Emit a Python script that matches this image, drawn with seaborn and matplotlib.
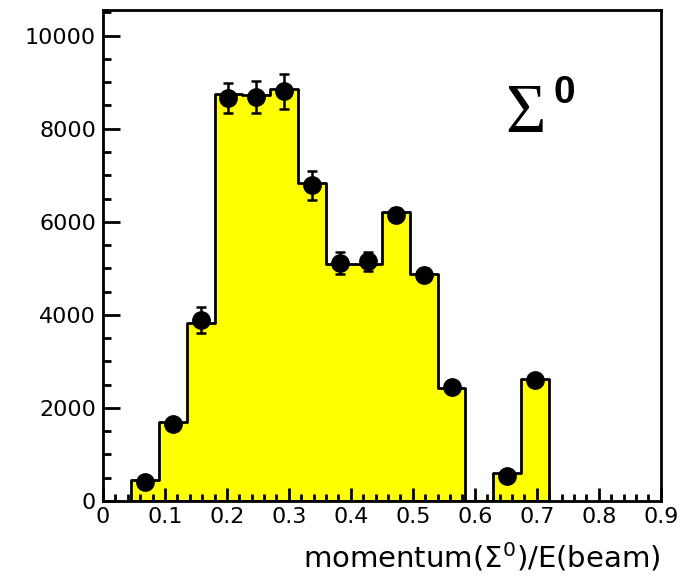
import numpy as np
import matplotlib
matplotlib.use("Agg")
import matplotlib.pyplot as plt
from matplotlib.ticker import MultipleLocator
import seaborn as sns

# Binning: 15 bins of width 0.045 starting at 0.045
bin_edges = [0.045, 0.09, 0.135, 0.18, 0.225, 0.27, 0.315, 0.36, 0.405,
             0.45, 0.495, 0.54, 0.585, 0.63, 0.675, 0.72]
bin_centers = [0.0675, 0.1125, 0.1575, 0.2025, 0.2475, 0.2925, 0.3375, 0.3825,
               0.4275, 0.4725, 0.5175, 0.5625, 0.6075, 0.6525, 0.6975]

# Filled histogram contents
hist_counts = [460, 1700, 3820, 8740, 8720, 8850, 6840, 5090,
               5090, 6210, 4880, 2420, 0, 600, 2630]

# Data points (bin 0.585-0.63 has no entry)
data_x = [0.0675, 0.1125, 0.1575, 0.2025, 0.2475, 0.2925, 0.3375, 0.3825,
          0.4275, 0.4725, 0.5175, 0.5625, 0.6525, 0.6975]
data_y = [400, 1660, 3880, 8660, 8680, 8800, 6780, 5110,
          5150, 6150, 4860, 2440, 540, 2600]
data_err = [100, 120, 280, 330, 340, 380, 320, 230,
            200, 140, 140, 100, 80, 120]

x_ticks = [0, 0.1, 0.2, 0.3, 0.4, 0.5, 0.6, 0.7, 0.8, 0.9]
x_tick_labels = ["0", "0.1", "0.2", "0.3", "0.4", "0.5", "0.6", "0.7", "0.8", "0.9"]

sns.set_style("white")
plt.rcParams["font.family"] = ["DejaVu Sans"]
plt.rcParams.update({"text.color": "black", "axes.labelcolor": "black",
                     "xtick.color": "black", "ytick.color": "black"})

fig = plt.figure(figsize=(6.81, 5.79), dpi=100)
ax = fig.add_axes([0.1512, 0.1347, 0.819, 0.848])
ax.set_axisbelow(False)

sns.histplot(x=bin_centers, weights=hist_counts, bins=bin_edges,
             element="step", fill=True, color="#ffff00", alpha=1.0,
             edgecolor="black", linewidth=2.0, ax=ax, zorder=2)

ax.errorbar(data_x, data_y, yerr=data_err, fmt="o", color="black",
            markersize=12.5, elinewidth=1.8, capsize=3.5, capthick=1.8,
            zorder=4)

ax.set_xlim(0, 0.9)
ax.set_ylim(0, 10550)

ax.set_xticks(x_ticks)
ax.set_xticklabels(x_tick_labels)
ax.xaxis.set_minor_locator(MultipleLocator(0.02))
ax.yaxis.set_major_locator(MultipleLocator(2000))
ax.yaxis.set_minor_locator(MultipleLocator(500))

ax.tick_params(axis="x", which="major", direction="in", length=9.5, width=2,
               labelsize=16, pad=4, bottom=True, top=False)
ax.tick_params(axis="x", which="minor", direction="in", length=5, width=2,
               bottom=True, top=False)
ax.tick_params(axis="y", which="major", direction="in", length=12, width=2,
               labelsize=16, pad=5, left=True, right=False)
ax.tick_params(axis="y", which="minor", direction="in", length=6, width=2,
               left=True, right=False)

for s in ax.spines.values():
    s.set_linewidth(2)
    s.set_color("black")

ax.set_ylabel("")
ax.set_xlabel(r"momentum($\mathregular{\Sigma^0}$)/E(beam)", fontsize=21,
              loc="right", labelpad=10)

ax.text(0.722, 0.7515, "Σ", transform=ax.transAxes, fontsize=50,
        family="Liberation Serif", ha="left", va="baseline")
ax.text(0.807, 0.8106, "0", transform=ax.transAxes, fontsize=28,
        family="Liberation Sans", fontweight="bold", ha="left", va="baseline")

fig.savefig("out.png", dpi=100)
